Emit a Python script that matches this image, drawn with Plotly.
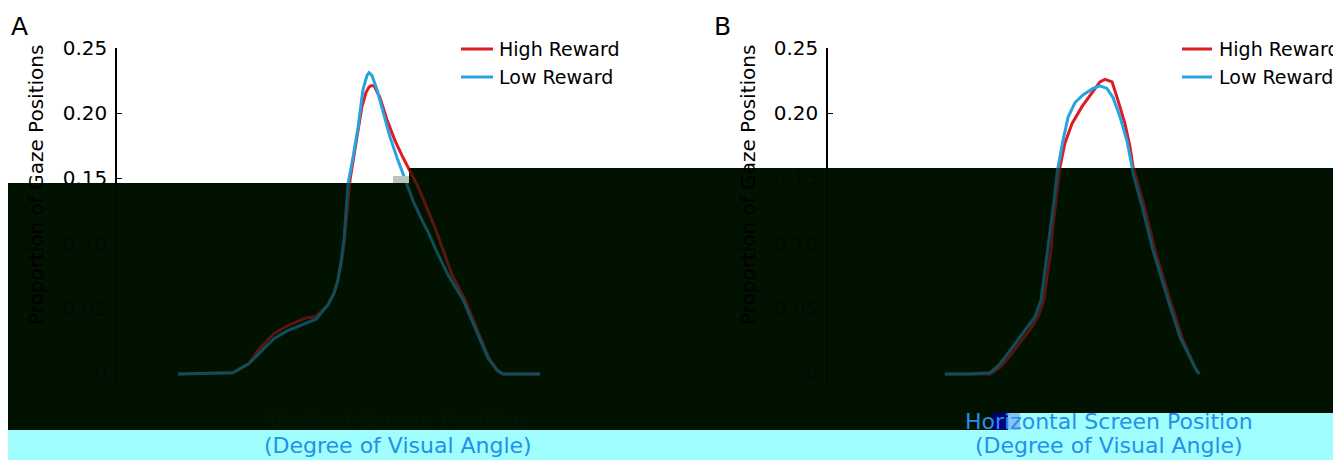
import plotly.graph_objects as go

W, H = 1333, 460

# ---------------- data ----------------
# Panel A: vertical screen position (deg) vs proportion of gaze positions
a_high_x = [-7.49, -5.23, -4.57, -4.20, -3.54, -3.00, -2.22, -1.81, -1.32, -1.07,
            -0.91, -0.76, -0.64, -0.53, -0.47, -0.41, -0.25, -0.08, 0.08, 0.25,
            0.37, 0.45, 0.58, 0.82, 1.11, 1.44, 1.77, 2.06, 2.35, 2.63,
            2.88, 3.13, 3.42, 3.79, 4.32, 4.98, 5.31, 5.64, 5.88, 7.41]
a_high_y = [0.000, 0.001, 0.008, 0.018, 0.031, 0.037, 0.043, 0.044, 0.053, 0.062,
            0.072, 0.086, 0.103, 0.122, 0.137, 0.149, 0.166, 0.187, 0.205, 0.216,
            0.220, 0.221, 0.221, 0.212, 0.195, 0.179, 0.166, 0.156, 0.145, 0.133,
            0.122, 0.110, 0.095, 0.076, 0.057, 0.026, 0.012, 0.003, 0.000, 0.000]
a_low_x = [-7.49, -5.23, -4.57, -4.20, -3.54, -3.00, -2.22, -1.81, -1.32, -1.07,
           -0.91, -0.78, -0.66, -0.58, -0.51, -0.49, -0.29, -0.08, 0.12, 0.29,
           0.37, 0.49, 0.70, 0.95, 1.23, 1.52, 1.73, 2.18, 2.55, 2.80,
           3.13, 3.62, 4.24, 4.94, 5.27, 5.64, 5.88, 7.41]
a_low_y = [0.000, 0.001, 0.008, 0.015, 0.027, 0.033, 0.039, 0.042, 0.053, 0.062,
           0.072, 0.086, 0.103, 0.122, 0.137, 0.146, 0.166, 0.189, 0.218, 0.229,
           0.231, 0.229, 0.218, 0.200, 0.182, 0.166, 0.155, 0.133, 0.118, 0.109,
           0.095, 0.076, 0.057, 0.026, 0.012, 0.003, 0.000, 0.000]

# Panel B: horizontal screen position (deg)
b_high_x = [-5.19, -4.24, -3.33, -2.92, -2.51, -2.02, -1.69, -1.36, -1.11, -0.95,
            -0.82, -0.74, -0.62, -0.49, -0.45, -0.25, 0.04, 0.45, 0.86, 1.19,
            1.40, 1.69, 1.93, 2.22, 2.43, 2.55, 2.63, 3.05, 3.46, 3.70,
            4.07, 4.57, 5.10, 5.27]
b_high_y = [0.000, 0.000, 0.000, 0.005, 0.014, 0.026, 0.034, 0.044, 0.057, 0.080,
            0.095, 0.114, 0.133, 0.153, 0.159, 0.177, 0.192, 0.205, 0.216, 0.224,
            0.226, 0.224, 0.210, 0.192, 0.174, 0.159, 0.154, 0.126, 0.095, 0.080,
            0.057, 0.028, 0.005, 0.000]
b_low_x = [-5.19, -4.24, -3.33, -2.96, -2.59, -2.10, -1.81, -1.48, -1.23, -1.07,
           -0.95, -0.82, -0.70, -0.58, -0.53, -0.33, -0.12, 0.16, 0.49, 0.91,
           1.19, 1.48, 1.73, 2.02, 2.30, 2.51, 2.55, 2.96, 3.37, 3.62,
           3.99, 4.49, 5.10, 5.27]
b_low_y = [0.000, 0.000, 0.001, 0.007, 0.016, 0.028, 0.035, 0.044, 0.057, 0.080,
           0.095, 0.114, 0.133, 0.153, 0.159, 0.179, 0.197, 0.208, 0.214, 0.219,
           0.221, 0.219, 0.212, 0.197, 0.179, 0.159, 0.154, 0.126, 0.095, 0.080,
           0.057, 0.028, 0.005, 0.000]

series_names = ["High Reward", "Low Reward"]
y_tickvals = [0.00, 0.05, 0.10, 0.15, 0.20, 0.25]
y_ticktext = ["0", "0.05", "0.10", "0.15", "0.20", "0.25"]
panel_labels = ["A", "B"]
x_titles = [("Vertical Screen Position", "(Degree of Visual Angle)"),
            ("Horizontal Screen Position", "(Degree of Visual Angle)")]
y_title = "Proportion of Gaze Positions"

# ---------------- style ----------------
RED = "#dd1c24"
BLUE = "#26a3e0"
DARK = "#011201"
CYAN = "#a0fefe"
TXTBLUE = "#2490e8"
FONT = "DejaVu Sans"


def fx(px):
    return px / W


def fy(py):
    return 1 - py / H


fig = go.Figure()

panels = [
    ("x", "y", a_high_x, a_high_y, a_low_x, a_low_y),
    ("x2", "y2", b_high_x, b_high_y, b_low_x, b_low_y),
]
for xa, ya, hx, hy, lx, ly in panels:
    fig.add_trace(go.Scatter(x=hx, y=hy, xaxis=xa, yaxis=ya, mode="lines",
                             name=series_names[0], showlegend=False,
                             line=dict(color=RED, width=3)))
    fig.add_trace(go.Scatter(x=lx, y=ly, xaxis=xa, yaxis=ya, mode="lines",
                             name=series_names[1], showlegend=False,
                             line=dict(color=BLUE, width=3)))

# y range chosen so that 0.25 sits at the top of the axis line
y_dom = [fy(387.04), fy(48)]
yaxis_common = dict(range=[-0.01, 0.25], domain=y_dom, showline=True,
                    linecolor="black", linewidth=1.6, ticks="inside", ticklen=5,
                    tickwidth=1.4, tickcolor="black", tickvals=y_tickvals,
                    ticktext=y_ticktext, showgrid=False, zeroline=False,
                    automargin=False,
                    tickfont=dict(family=FONT, size=20, color="black"),
                    ticklabelstandoff=4)
xaxis_common = dict(range=[-10, 10], visible=False, showgrid=False,
                    zeroline=False, automargin=False)

fig.update_layout(
    width=W, height=H,
    autosize=False,
    margin=dict(l=0, r=0, t=0, b=0, pad=0, autoexpand=False),
    paper_bgcolor="white",
    plot_bgcolor="rgba(0,0,0,0)",
    showlegend=False,
    xaxis=dict(domain=[fx(117), fx(603)], anchor="y", **xaxis_common),
    yaxis=dict(anchor="x", **yaxis_common),
    xaxis2=dict(domain=[fx(828), fx(1314)], anchor="y2", **xaxis_common),
    yaxis2=dict(anchor="x2", **yaxis_common),
)

shapes = []


def rect(x0, y0, x1, y1, color, layer="below", opacity=1.0):
    shapes.append(dict(type="rect", xref="paper", yref="paper",
                       x0=fx(x0), x1=fx(x1), y0=fy(y1), y1=fy(y0),
                       fillcolor=color, line=dict(width=0), layer=layer,
                       opacity=opacity))


# occluding blocks (below traces)
dark_blocks = [(8, 183, 409, 430), (409, 168, W + 2, 413), (409, 413, 993, 430)]
for b in dark_blocks:
    rect(*b, DARK)
rect(8, 430, W + 2, H + 2, CYAN)
rect(1020, 413, W + 2, 430, CYAN)
# dimming layer over the traces inside the dark blocks
for b in dark_blocks:
    rect(*b, DARK, layer="above", opacity=0.6)
rect(993, 413, 1008, 430, "#00007c", layer="above")
rect(1008, 413, 1020, 430, "#86c2f4", layer="above")
rect(393, 176, 409, 183, "#b9c5b9", layer="above")

# legend lines
legend_pos = [(461, 493, 497), (1182, 1212, 1217)]
legend_y = [49, 77]
for (lx0, lx1, tx) in legend_pos:
    for col, yy in zip([RED, BLUE], legend_y):
        shapes.append(dict(type="line", xref="paper", yref="paper",
                           x0=fx(lx0), x1=fx(lx1), y0=fy(yy), y1=fy(yy),
                           line=dict(color=col, width=3), layer="above"))

fig.update_layout(shapes=shapes)

ann = []
for (lx0, lx1, tx) in legend_pos:
    for name, yy in zip(series_names, legend_y):
        ann.append(dict(text=name, x=fx(tx), y=fy(yy), xref="paper", yref="paper",
                        xanchor="left", yanchor="middle", showarrow=False,
                        font=dict(family=FONT, size=19, color="black")))

# panel letters
for lab, px in zip(panel_labels, [19.5, 722]):
    ann.append(dict(text=lab, x=fx(px), y=fy(27), xref="paper", yref="paper",
                    xanchor="center", yanchor="middle", showarrow=False,
                    font=dict(family=FONT, size=25, color="black")))

# y titles
for px in [36, 748]:
    ann.append(dict(text=y_title, x=fx(px), y=fy(43), xref="paper", yref="paper",
                    xanchor="center", yanchor="top", textangle=-90,
                    showarrow=False,
                    font=dict(family=FONT, size=20, color="black")))

# x titles
for (l1, l2), cx, c1 in zip(x_titles, [397.5, 1108.5], ["#031603", TXTBLUE]):
    ann.append(dict(text=l1, x=fx(cx), y=fy(421), xref="paper", yref="paper",
                    xanchor="center", yanchor="middle", showarrow=False,
                    font=dict(family=FONT, size=22, color=c1)))
    ann.append(dict(text=l2, x=fx(cx), y=fy(445), xref="paper", yref="paper",
                    xanchor="center", yanchor="middle", showarrow=False,
                    font=dict(family=FONT, size=22, color=TXTBLUE)))

fig.update_layout(annotations=ann)

fig.write_html(
    "out.html",
    config={"displayModeBar": False},
    post_script="document.body.style.margin='0px';"
                "document.body.style.padding='0px';"
                "document.documentElement.style.overflow='hidden';",
)
